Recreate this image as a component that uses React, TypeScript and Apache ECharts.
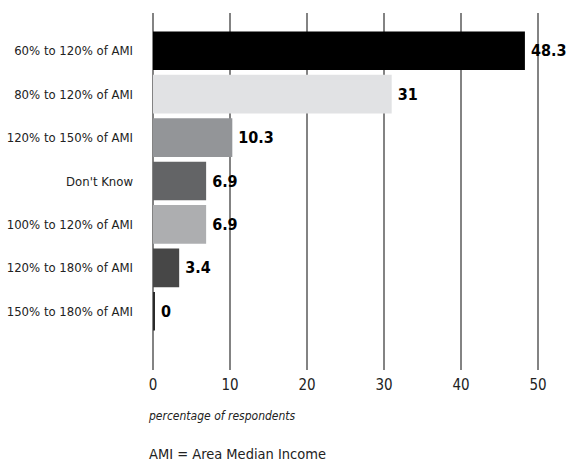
import React, { useEffect, useRef } from "react";
import * as echarts from "echarts";

const categories = [
  "60% to 120% of AMI",
  "80% to 120% of AMI",
  "120% to 150% of AMI",
  "Don't Know",
  "100% to 120% of AMI",
  "120% to 180% of AMI",
  "150% to 180% of AMI",
];
const values = [48.3, 31, 10.3, 6.9, 6.9, 3.4, 0];
const barColors = ["#000000", "#e1e2e4", "#939598", "#636466", "#adaeb0", "#474747", "#2a2a2a"];
const xTicks = [0, 10, 20, 30, 40, 50];

const FONT = "'DejaVu Sans Condensed', 'Liberation Sans Narrow', Roboto, sans-serif";

export default function App() {
  const ref = useRef<HTMLDivElement>(null);

  useEffect(() => {
    if (!ref.current) return;
    const chart = echarts.init(ref.current, undefined, { renderer: "svg" });
    chart.setOption({
      animation: false,
      backgroundColor: "#ffffff",
      grid: [
        // bars
        { left: 153, right: 31, top: 29, height: 304 },
        // gridlines and tick labels
        { left: 153, right: 31, top: 13, height: 357 },
      ],
      xAxis: [
        {
          gridIndex: 0,
          type: "value",
          min: 0,
          max: 50,
          interval: 10,
          show: false,
        },
        {
          gridIndex: 1,
          type: "value",
          min: xTicks[0],
          max: xTicks[xTicks.length - 1],
          interval: 10,
          axisLine: { show: false },
          axisTick: { show: false },
          splitLine: { show: true, lineStyle: { color: "#5a5a5a", width: 1.5 } },
          axisLabel: {
            fontFamily: FONT,
            fontSize: 15,
            color: "#222",
            margin: 7,
          },
        },
      ],
      yAxis: [
        {
          gridIndex: 0,
          type: "category",
          data: categories,
          inverse: true,
          axisLine: { show: false },
          axisTick: { show: false },
          axisLabel: {
            fontFamily: FONT,
            fontSize: 13,
            color: "#222",
            margin: 20,
          },
        },
        {
          gridIndex: 1,
          type: "value",
          show: false,
        },
      ],
      series: [
        {
          type: "bar",
          xAxisIndex: 0,
          yAxisIndex: 0,
          barCategoryGap: "11%",
          barMinHeight: 2,
          data: values.map((v, i) => ({ value: v, itemStyle: { color: barColors[i] } })),
          label: {
            show: true,
            position: "right",
            distance: 6,
            fontFamily: FONT,
            fontWeight: "bold",
            fontSize: 16,
            color: "#000",
          },
        },
      ],
      graphic: [
        {
          type: "text",
          left: 149,
          top: 410,
          style: {
            text: "percentage of respondents",
            fontFamily: FONT,
            fontStyle: "italic",
            fontSize: 12,
            fill: "#222",
          },
        },
        {
          type: "text",
          left: 149,
          top: 446,
          style: {
            text: "AMI = Area Median Income",
            fontFamily: FONT,
            fontSize: 14.5,
            fill: "#222",
          },
        },
      ],
    });
    return () => chart.dispose();
  }, []);

  return (
    <div
      ref={ref}
      style={{ position: "fixed", left: 0, top: 0, width: 569, height: 462 }}
    />
  );
}
